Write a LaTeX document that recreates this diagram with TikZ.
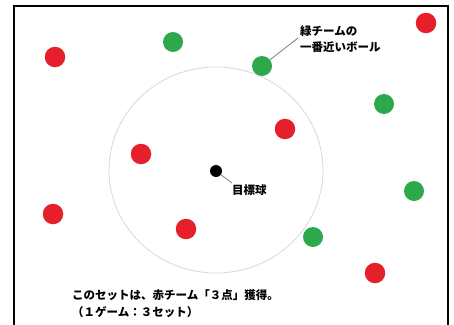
\documentclass[tikz,border=0pt]{standalone}
\usepackage{fontspec}
\newfontfamily\jp{Noto Sans CJK JP}
\definecolor{ballred}{HTML}{E6202A}
\definecolor{ballgreen}{HTML}{2DA84A}
\definecolor{leader}{HTML}{8A8A8A}
\begin{document}
\begin{tikzpicture}[x=1pt,y=-1pt,
  redball/.style={circle,fill=ballred,minimum size=20.5pt,inner sep=0},
  greenball/.style={circle,fill=ballgreen,minimum size=20pt,inner sep=0},
  jack/.style={circle,fill=black,minimum size=12pt,inner sep=0},
  lbl/.style={font=\jp\bfseries\fontsize{11.5}{16}\selectfont,inner sep=0,align=left},
  leaderline/.style={draw=leader,line width=0.9pt}]
\useasboundingbox (0,0) rectangle (454,324);
\fill[white] (0,0) rectangle (454,324);
% frame
\draw[line width=2pt] (14,330) -- (14,6) -- (448,6) -- (448,330);
% area circle
\draw[draw=black!15,line width=0.8pt] (216,170) ellipse [x radius=107, y radius=103];
% balls
\node[redball] (r1) at (426,23) {};
\node[redball] (r2) at (55,57) {};
\node[greenball] (g1) at (173,42) {};
\node[greenball] (g2) at (262,66) {};
\node[greenball] (g3) at (384,104) {};
\node[redball] (r3) at (285,129) {};
\node[redball] (r4) at (141,154) {};
\node[jack] (j) at (216,171) {};
\node[greenball] (g4) at (414,191) {};
\node[redball] (r5) at (53,214) {};
\node[redball] (r6) at (186,229) {};
\node[greenball] (g5) at (313,237) {};
\node[redball] (r7) at (375,273) {};
% labels
\node[lbl,anchor=west] (tg) at (300,39) {緑チームの\\一番近いボール};
\node[lbl,anchor=west] (tj) at (232,190) {目標球};
\node[lbl,anchor=west] (t1) at (72,295) {このセットは、赤チーム「３点」獲得。};
\node[lbl,anchor=west] (t2) at (72,312) {（１ゲーム：３セット）};
% leaders
\coordinate (cg) at (298,38);
\coordinate (cj) at (232,183);
\draw[leaderline] (g2) -- (cg);
\draw[leaderline] (j) -- (cj);
\end{tikzpicture}
\end{document}
